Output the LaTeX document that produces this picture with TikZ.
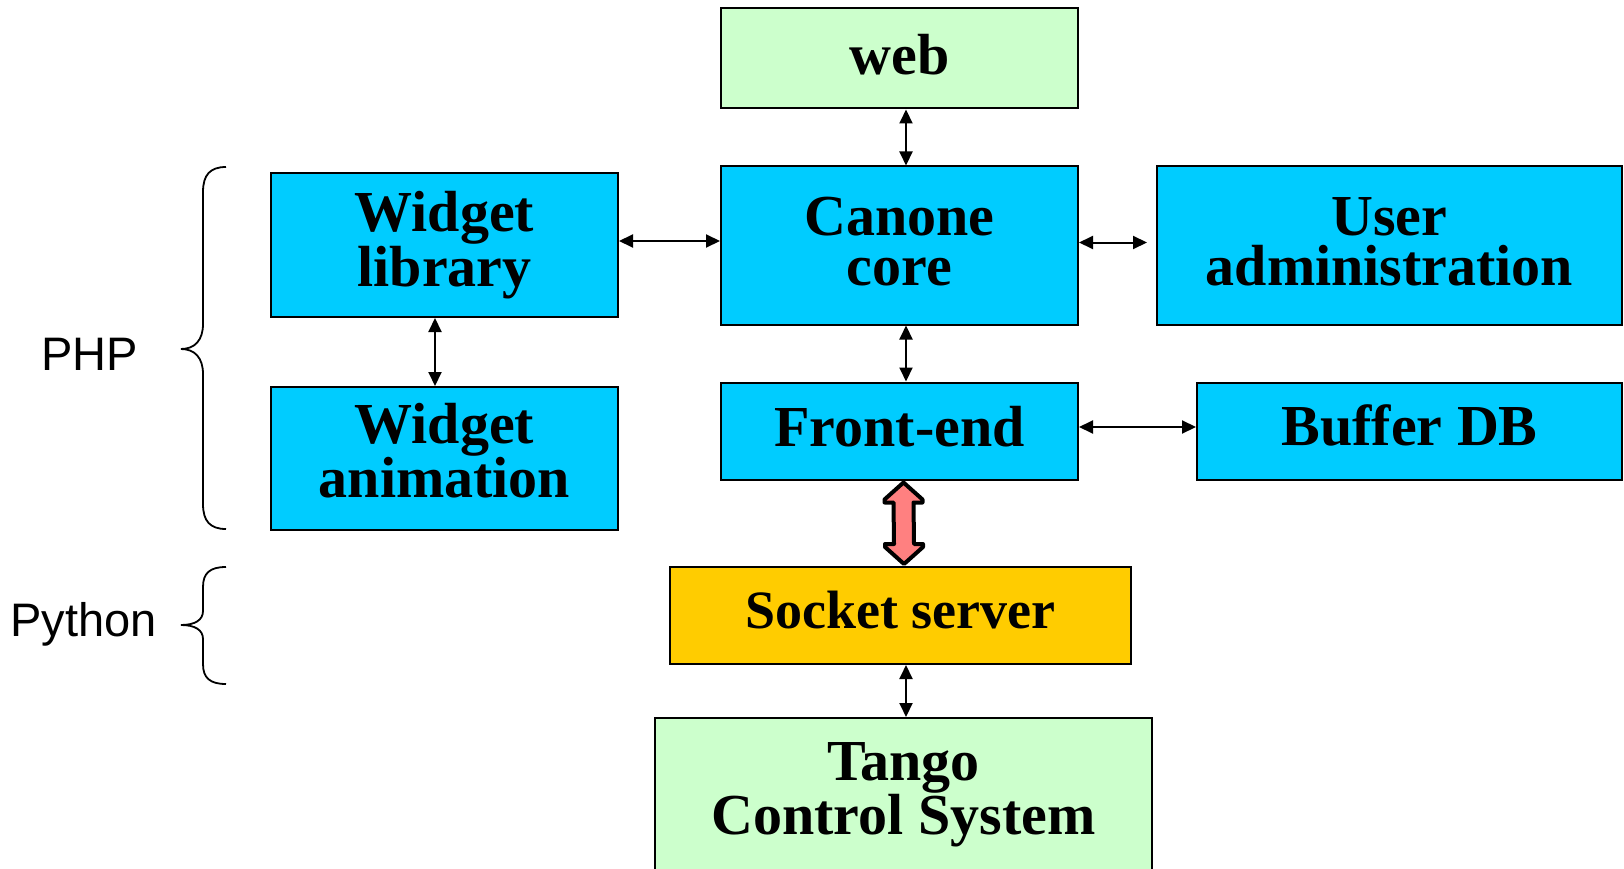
\documentclass[tikz,border=0pt]{standalone}
\usepackage{fontspec}
\setmainfont{Liberation Serif}
\newfontfamily\arialf{Liberation Sans}
\usetikzlibrary{arrows.meta,calc}
\definecolor{boxcyan}{HTML}{00CCFF}
\definecolor{boxgreen}{HTML}{CCFFCC}
\definecolor{boxyellow}{HTML}{FFCC00}
\definecolor{arrowpink}{HTML}{FF8080}
\begin{document}
\begin{tikzpicture}[x=1pt,y=-1pt,
  box/.style={draw=black, line width=2pt, inner sep=0pt, align=center,
    font=\bfseries\fontsize{58}{50}\selectfont},
  cyanbox/.style={box, fill=boxcyan},
  greenbox/.style={box, fill=boxgreen},
  yellowbox/.style={box, fill=boxyellow},
  link/.style={line width=2pt, {Triangle[length=14pt,width=13pt]}-{Triangle[length=14pt,width=13pt]}},
  fatarrow/.style={draw=black, fill=arrowpink, line width=4pt, line join=round},
  brace/.style={draw=black, line width=1.8pt},
  lang/.style={font=\arialf\fontsize{47}{50}\selectfont, inner sep=0pt}]
\useasboundingbox (0,0) rectangle (1624,869);

\node[greenbox, minimum width=357pt, minimum height=100pt, text height=33pt, text depth=0pt] (web) at (899.5,58.5) {web};
\node[cyanbox, minimum width=357pt, minimum height=158pt, text height=79pt, text depth=0pt] (core) at (899.5,245.5) {Canone\\core};
\node[cyanbox, minimum width=347pt, minimum height=144pt, text height=82pt, text depth=0pt] (wlib) at (444.5,245) {Widget\\library};
\node[cyanbox, minimum width=465pt, minimum height=158pt, text height=79pt, text depth=0pt] (user) at (1389.5,245.5) {User\\administration};
\node[cyanbox, minimum width=347pt, minimum height=143pt, text height=78pt, text depth=0pt] (wanim) at (444.5,458.5) {Widget\\animation};
\node[cyanbox, minimum width=357pt, minimum height=97pt, text height=30pt, text depth=0pt] (fe) at (899.5,431) {Front-end};
\node[cyanbox, minimum width=425pt, minimum height=97pt, text height=28pt, text depth=0pt] (buf) at (1409.5,431) {Buffer DB};
\node[yellowbox, minimum width=461pt, minimum height=97pt, text height=25pt, text depth=0pt,
  font=\bfseries\fontsize{54}{50}\selectfont] (sock) at (900.5,615.5) {Socket server};
\node[greenbox, minimum width=497pt, minimum height=154pt, text height=79pt, text depth=0pt] (tango) at (903.5,795) {Tango\\Control System};

\draw[link] ([xshift=6.5pt]web.south) -- ([xshift=6.5pt]core.north);
\draw[link] ([yshift=4pt]wlib.east) -- ([yshift=4pt]wlib.east -| core.west);
\draw[link, shorten >=9pt] ([yshift=3pt]core.east) -- ([yshift=3pt]core.east -| user.west);
\draw[link] ([xshift=-9.5pt]wlib.south) -- ([xshift=-9.5pt]wanim.north);
\draw[link] ([xshift=6.5pt]core.south) -- ([xshift=6.5pt]fe.north);
\draw[link] ([yshift=4pt]fe.east) -- ([yshift=4pt]fe.east -| buf.west);
\draw[link] ([xshift=5.5pt]sock.south) -- ([xshift=5.5pt]sock.south |- tango.north);

\path ($(fe.south)+(4,2)$) coordinate (ft) ($(sock.north)+(3.5,-2)$) coordinate (fb);
\draw[fatarrow] (ft) -- ($(ft)+(19,17)$) -- ($(ft)+(19,20)$) -- ($(ft)+(10,20)$)
  -- ($(fb)+(10,-20)$) -- ($(fb)+(19,-20)$) -- ($(fb)+(19,-17)$) -- (fb)
  -- ($(fb)+(-19,-17)$) -- ($(fb)+(-19,-20)$) -- ($(fb)+(-10,-20)$)
  -- ($(ft)+(-10,20)$) -- ($(ft)+(-19,20)$) -- ($(ft)+(-19,17)$) -- cycle;

\draw[brace] (226,167) .. controls (210,167) and (203,175) .. (203,192) -- (203,324)
  .. controls (203,340) and (195,349) .. (181,349)
  .. controls (195,349) and (203,358) .. (203,374) -- (203,504)
  .. controls (203,521) and (210,529) .. (226,529);
\draw[brace] (226,567) .. controls (210,567) and (203,573) .. (203,587) -- (203,611)
  .. controls (203,620) and (195,625) .. (181,625)
  .. controls (195,625) and (203,630) .. (203,639) -- (203,664)
  .. controls (203,678) and (210,684) .. (226,684);

\node[lang, anchor=base west] (php) at (41,370) {PHP};
\node[lang, anchor=base west] (python) at (10,636) {Python};
\end{tikzpicture}
\end{document}
